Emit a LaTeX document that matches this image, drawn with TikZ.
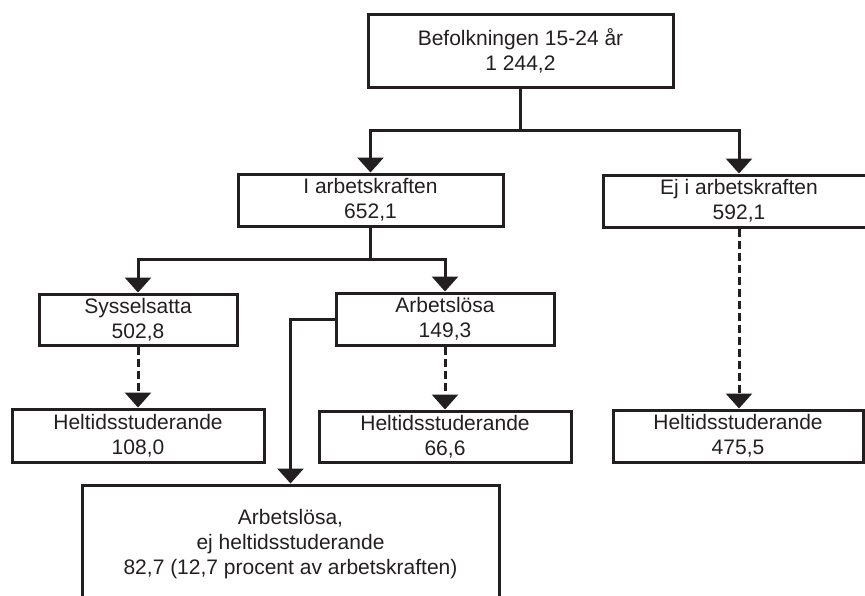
\documentclass[tikz,border=0pt]{standalone}
\usepackage{fontspec}
\setmainfont{Liberation Sans}
\usetikzlibrary{arrows.meta}
\definecolor{inkColor}{HTML}{231F20}

\begin{document}
\begin{tikzpicture}[x = 1pt, y = -1pt, font=\fontsize{21}{25}\selectfont, color = inkColor]
	\tikzstyle{boxStyle}=[shape = rectangle, draw, line width = 3pt, inner sep = 0pt, align = center]
	\tikzstyle{lineStyle}=[line width = 3pt]
	\tikzstyle{arrowStyle}=[lineStyle, -{Triangle[width = 26pt, length = 15pt]}]
	\tikzstyle{dashedArrowStyle}=[arrowStyle, dash pattern = on 8pt off 4pt]
	\useasboundingbox (0, 0) rectangle (865, 595);
	% boxes
	\node[boxStyle, minimum width = 305pt, minimum height = 73pt] (pop) at (520.5, 50.5) {Befolkningen 15-24 år\\1 244,2};
	\node[boxStyle, minimum width = 265pt, minimum height = 52pt] (ik) at (370.5, 200) {I arbetskraften\\652,1};
	\node[boxStyle, minimum width = 272pt, minimum height = 52pt] (ej) at (739, 201) {Ej i arbetskraften\\592,1};
	\node[boxStyle, minimum width = 198pt, minimum height = 51pt] (syss) at (138, 319.5) {Sysselsatta\\502,8};
	\node[boxStyle, minimum width = 218pt, minimum height = 52pt] (arb) at (445, 319) {Arbetslösa\\149,3};
	\node[boxStyle, minimum width = 252pt, minimum height = 53pt] (heltidSyss) at (138, 435.5) {Heltidsstuderande\\108,0};
	\node[boxStyle, minimum width = 252pt, minimum height = 51pt] (heltidArb) at (445, 436.5) {Heltidsstuderande\\66,6};
	\node[boxStyle, minimum width = 250pt, minimum height = 52pt] (heltidEj) at (738, 436) {Heltidsstuderande\\475,5};
	\node[boxStyle, minimum width = 417pt, minimum height = 118pt] (arbEj) at (290.5, 544) {Arbetslösa,\\ej heltidsstuderande\\82,7 (12,7 procent av arbetskraften)};
	% split points
	\coordinate (popSplit) at (520.5, 130);
	\coordinate (ikSplit) at (370.5, 259);
	% connectors
	\draw[lineStyle] (pop.south) -- (popSplit);
	\draw[arrowStyle] (popSplit) -| (ik.north);
	\draw[arrowStyle] (popSplit) -| (ej.north);
	\draw[lineStyle] (ik.south) -- (ikSplit);
	\draw[arrowStyle] (ikSplit) -| (syss.north);
	\draw[arrowStyle] (ikSplit) -| (arb.north);
	\draw[arrowStyle] (arb.west) -| (arbEj.north);
	\draw[dashedArrowStyle] (syss.south) -- (heltidSyss.north);
	\draw[dashedArrowStyle] (arb.south) -- (heltidArb.north);
	\draw[dashedArrowStyle] (ej.south) -- (ej.south |- heltidEj.north);
\end{tikzpicture}
\end{document}
